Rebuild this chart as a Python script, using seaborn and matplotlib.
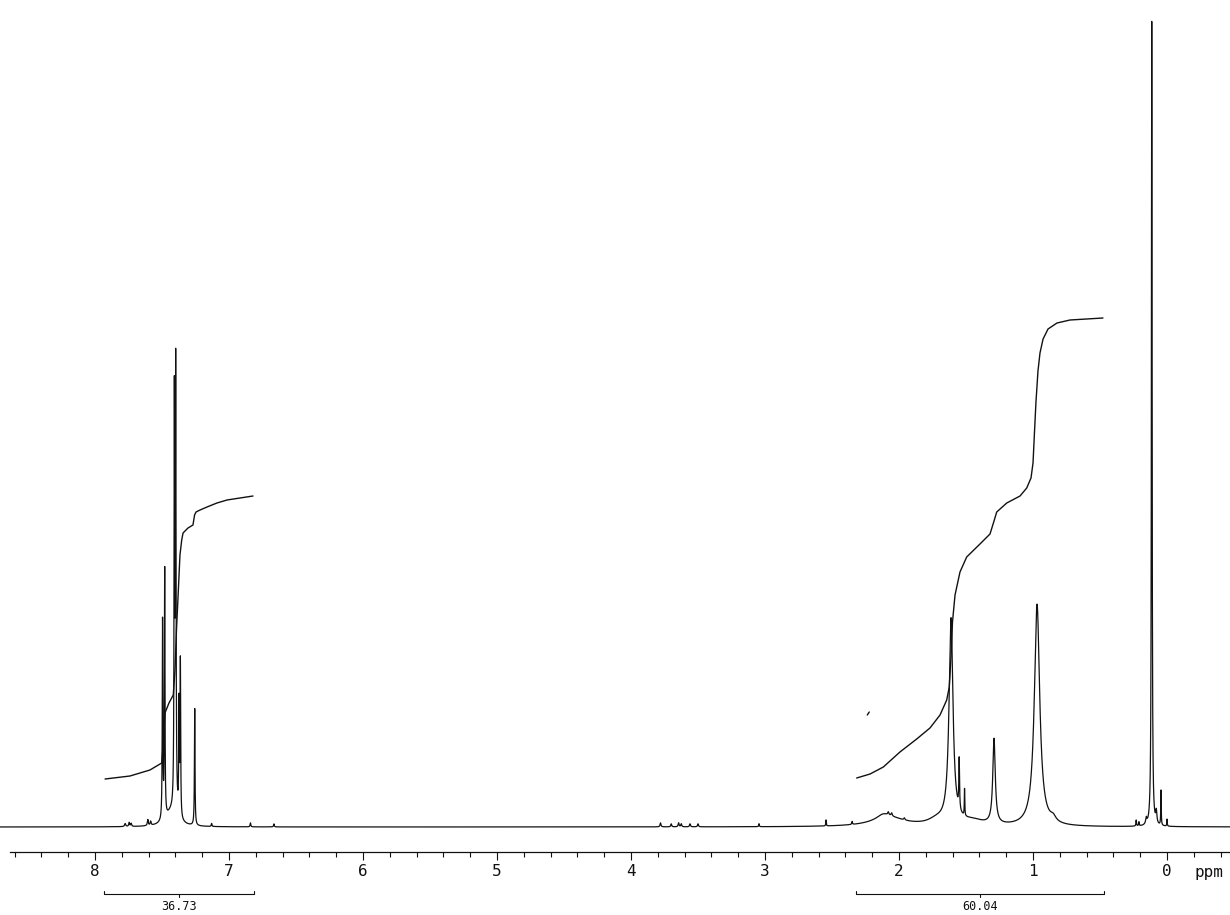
import numpy as np
import pandas as pd
import matplotlib
matplotlib.use("Agg")
import matplotlib.pyplot as plt
from matplotlib.ticker import FixedLocator, MultipleLocator
import seaborn as sns

# ---------------- data ----------------
# peak list: chemical shift (ppm), height (arbitrary units), line width (FWHM, ppm)
peak_ppm = [7.775, 7.745, 7.730, 7.606, 7.585,
            7.496, 7.480, 7.408, 7.398, 7.373, 7.363, 7.256,
            7.130, 6.840, 6.665,
            3.780, 3.700, 3.645, 3.625, 3.560, 3.500, 3.045, 2.545, 2.350,
            2.080, 2.120, 2.080, 2.055, 1.960, 1.720, 1.450,
            1.612, 1.551, 1.511, 1.291, 0.970, 0.850,
            0.230, 0.210, 0.155, 0.114, 0.080, 0.045, 0.000,
            7.430]
peak_height = [3, 4, 3, 6, 4,
               198, 248, 402, 443, 110, 155, 117,
               3, 4, 3,
               4, 3, 4, 3, 3, 3, 3, 6, 3,
               9, 4, 3, 3, 2, 5, 5,
               205, 50, 27, 85, 222, 5,
               6, 4, 6, 805, 12, 35, 7,
               14]
peak_width = [0.010, 0.008, 0.008, 0.008, 0.008,
              0.005, 0.005, 0.005, 0.006, 0.005, 0.005, 0.005,
              0.006, 0.006, 0.006,
              0.008, 0.008, 0.008, 0.008, 0.008, 0.008, 0.005, 0.004, 0.006,
              0.300, 0.100, 0.010, 0.010, 0.010, 0.150, 0.200,
              0.035, 0.006, 0.004, 0.022, 0.048, 0.050,
              0.005, 0.005, 0.010, 0.006, 0.010, 0.004, 0.004,
              0.100]

# integral traces (ppm, height)
integral1_ppm = [7.925, 7.739, 7.590, 7.502, 7.489, 7.478, 7.448, 7.416, 7.403,
                 7.392, 7.378, 7.366, 7.353, 7.343, 7.306, 7.269, 7.257, 7.246,
                 7.216, 7.164, 7.090, 7.015, 6.918, 6.821]
integral1_height = [48, 51, 57, 64, 87, 114, 124, 132, 157, 197, 237, 272, 287,
                    294, 299, 302, 312, 315, 317, 320, 324, 327, 329, 331]
integral2_ppm = [2.316, 2.216, 2.117, 1.993, 1.868, 1.769, 1.694, 1.644, 1.625,
                 1.610, 1.601, 1.582, 1.545, 1.495, 1.396, 1.321, 1.291, 1.271,
                 1.196, 1.097, 1.047, 1.015, 1.000, 0.989, 0.978, 0.963, 0.948,
                 0.925, 0.888, 0.821, 0.724, 0.478]
integral2_height = [49, 53, 60, 75, 88, 99, 112, 127, 140, 175, 205, 232, 255,
                    270, 283, 293, 306, 315, 324, 331, 339, 349, 364, 395, 425,
                    456, 474, 488, 498, 504, 507, 509]
stray_ppm = [2.237, 2.222]
stray_height = [112, 115]

integral_ranges = [(7.933, 6.813), (2.321, 0.470)]
integral_labels = ["36.73", "60.04"]

major_ticks = [8, 7, 6, 5, 4, 3, 2, 1, 0]
major_labels = ["8", "7", "6", "5", "4", "3", "2", "1", "0"]
axis_unit = "ppm"

# ---------------- spectrum from peak list ----------------
ppm_grid = np.linspace(8.709, -0.470, 40000)
intensity = np.zeros_like(ppm_grid)
for p, h, w in zip(peak_ppm, peak_height, peak_width):
    intensity += h / (1.0 + ((ppm_grid - p) / (w / 2.0)) ** 2)
spec = pd.DataFrame({"ppm": ppm_grid, "intensity": intensity})

# ---------------- figure ----------------
sns.set_style("white")
plt.rcParams["font.family"] = ["DejaVu Sans Mono", "DejaVu Sans"]

fig = plt.figure(figsize=(12.3, 9.15), dpi=100)
ax = fig.add_axes([0, 0, 1, 1])
ink = "#111111"

sns.lineplot(data=spec, x="ppm", y="intensity", ax=ax, color=ink,
             linewidth=0.9, estimator=None, sort=False)
sns.lineplot(x=integral1_ppm, y=integral1_height, ax=ax, color=ink,
             linewidth=1.0, estimator=None, sort=False)
sns.lineplot(x=integral2_ppm, y=integral2_height, ax=ax, color=ink,
             linewidth=1.0, estimator=None, sort=False)
sns.lineplot(x=stray_ppm, y=stray_height, ax=ax, color=ink,
             linewidth=1.0, estimator=None, sort=False)

ax.set_xlim(8.709, -0.470)
ax.set_ylim(-88, 827)
ax.set_xlabel("")
ax.set_ylabel("")

# axis styling
for s in ["top", "right", "left"]:
    ax.spines[s].set_visible(False)
ax.spines["bottom"].set_position(("data", -25))
ax.spines["bottom"].set_bounds(8.634, -0.470)
ax.spines["bottom"].set_color(ink)
ax.spines["bottom"].set_linewidth(0.9)
ax.set_yticks([])
ax.xaxis.set_major_locator(FixedLocator(major_ticks))
ax.set_xticklabels(major_labels)
ax.xaxis.set_minor_locator(MultipleLocator(0.2))
ax.tick_params(axis="x", which="major", direction="out", length=5.8, width=0.8,
               pad=3.0, labelsize=11.5, colors=ink)
ax.tick_params(axis="x", which="minor", direction="out", length=3.4, width=0.8,
               colors=ink)
ax.tick_params(axis="x", which="both", bottom=True)

ax.text(-0.313, -45, axis_unit, ha="center", va="center", fontsize=11.5, color=ink)

# integral brackets
for (x1, x2), lab in zip(integral_ranges, integral_labels):
    ax.plot([x1, x1, x2, x2], [-64, -67, -67, -64], color=ink, linewidth=0.8)
    mid = (x1 + x2) / 2
    ax.plot([mid, mid], [-67, -69.5], color=ink, linewidth=0.8)
    ax.text(mid, -79, lab, ha="center", va="center", fontsize=8.5, color=ink)

fig.savefig("out.png", dpi=100, facecolor="white")
